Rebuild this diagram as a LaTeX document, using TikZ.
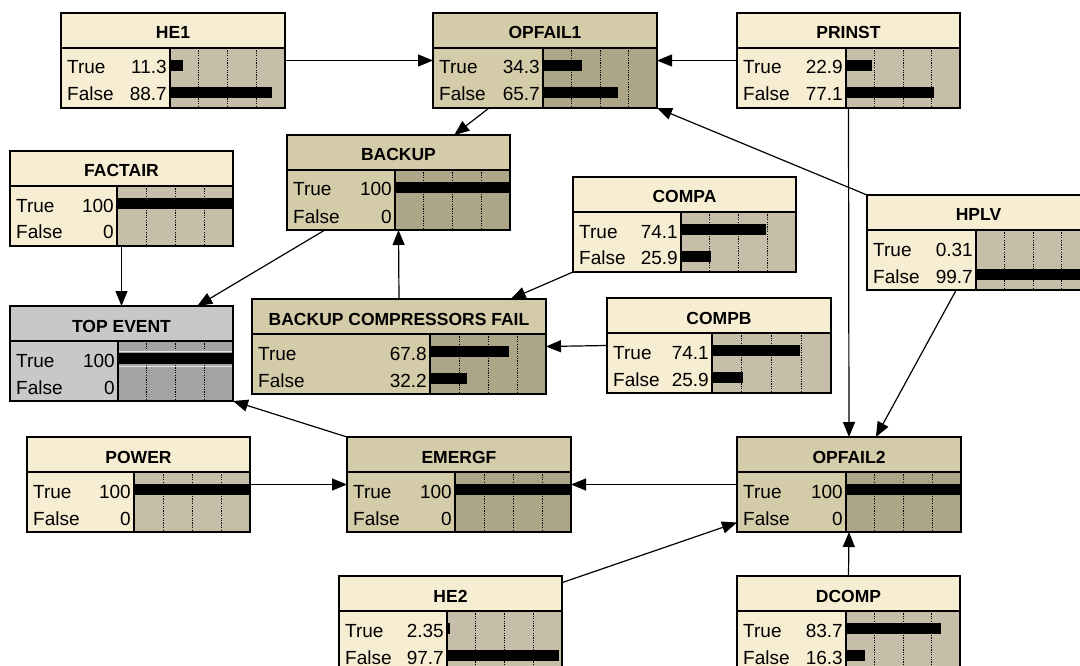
\documentclass[tikz,border=0pt]{standalone}
\usepackage{fontspec}
\setmainfont{Liberation Sans}
\usepackage{xcolor}
\usetikzlibrary{arrows.meta,calc,positioning}

\definecolor{plainhd}{RGB}{247,237,210}
\definecolor{plainbr}{RGB}{199,190,170}
\definecolor{condhd}{RGB}{212,203,168}
\definecolor{condbr}{RGB}{172,165,136}
\definecolor{tophd}{RGB}{200,200,200}
\definecolor{topbr}{RGB}{163,163,163}

\begin{document}
\begin{tikzpicture}[x=1pt,y=-1pt,>={Triangle[length=15pt,width=12pt]},
  font=\fontsize{19}{22}\selectfont,
  bbox/.style={draw,line width=2pt,minimum height=95pt,inner sep=0pt,outer sep=0pt,anchor=north west},
  txt/.style={inner sep=0pt,font=\fontsize{19}{22}\selectfont},
  head/.style={inner sep=0pt,font=\fontsize{17.5}{20}\selectfont\bfseries,anchor=base},
  link/.style={->,line width=1.2pt},
  grid/.style={line width=0.8pt,dash pattern=on 1.2pt off 1.2pt}]
  \useasboundingbox (0,0) rectangle (1080,666);
  \clip (0,0) rectangle (1080,666);
  % belief boxes: name/x/y/width/split/title/true/false/kind
  \foreach \n/\x/\y/\w/\s/\lbl/\pt/\pf/\kind in {
    he1/61/13/224/109/HE1/11.3/88.7/plain,
    opfail1/433/13/224/110/OPFAIL1/34.3/65.7/cond,
    prinst/737/13/223/109/PRINST/22.9/77.1/plain,
    backup/287/135/223/108/BACKUP/100/0/cond,
    factair/10/151/223/107/FACTAIR/100/0/plain,
    compa/573/177/223/108/COMPA/74.1/25.9/plain,
    hplv/867/195/223/109/HPLV/0.31/99.7/plain,
    topevent/10/306/223/108/{TOP EVENT}/100/0/top,
    bcf/252/299/294/178/{BACKUP COMPRESSORS FAIL}/67.8/32.2/cond,
    compb/607/298/224/105/COMPB/74.1/25.9/plain,
    power/27/437/223/107/POWER/100/0/plain,
    emergf/347/437/224/108/EMERGF/100/0/cond,
    opfail2/737/437/224/109/OPFAIL2/100/0/cond,
    he2/339/576/223/108/HE2/2.35/97.7/plain,
    dcomp/737/576/223/109/DCOMP/83.7/16.3/plain} {
    \colorlet{hdcol}{\kind hd}\colorlet{brcol}{\kind br}
    \node[bbox,fill=hdcol,minimum width=\w pt] (\n) at (\x,\y) {};
    \fill[brcol] (\x+\s,\y+35) rectangle (\x+\w,\y+95);
    \foreach \q in {0.25,0.5,0.75} \draw[grid] ({\x+\s+\q*(\w-\s)},\y+35) -- ++(0,60);
    \fill ({\x+\s},\y+47) rectangle ({\x+\s+\pt/100*(\w-\s)},\y+58);
    \fill ({\x+\s},\y+74) rectangle ({\x+\s+\pf/100*(\w-\s)},\y+85);
    \draw[line width=2pt] (\x,\y+35) -- (\x+\w,\y+35) (\x+\s,\y+35) -- (\x+\s,\y+95);
    \node[head] at (\x+\w/2,\y+26) {\lbl};
    \node[txt,anchor=base west] at (\x+6,\y+61) {True};
    \node[txt,anchor=base east] at (\x+\s-3,\y+61) {\pt};
    \node[txt,anchor=base west] at (\x+6,\y+88) {False};
    \node[txt,anchor=base east] at (\x+\s-3,\y+88) {\pf};
    \draw[line width=2pt] (\x,\y) rectangle (\x+\w,\y+95);
  }
  % evidence marks on the top event
  \draw[white!80!gray,line width=0.8pt] ($(topevent.north west)+(109,45)$) -- ($(topevent.north east)+(-1,45)$)
    ($(topevent.north west)+(109,60)$) -- ($(topevent.north east)+(-1,60)$);

  \draw[link] (he1.east) -- (opfail1.west);
  \draw[link] (prinst.west) -- (opfail1.east);
  \draw[link] ($(opfail1.south west)!0.25!(opfail1.south east)$) -- ($(backup.north west)!0.75!(backup.north east)$);
  \draw[link] (hplv.north west) -- (opfail1.south east);
  \draw[link] (prinst.south) -- (opfail2.north);
  \draw[link] ($(hplv.south west)!0.4!(hplv.south east)$) -- ($(opfail2.north west)!0.62!(opfail2.north east)$);
  \draw[link] (factair.south) -- (topevent.north);
  \draw[link] ($(backup.south west)!0.17!(backup.south east)$) -- ($(topevent.north west)!0.84!(topevent.north east)$);
  \draw[link] (bcf.north) -- (backup.south);
  \draw[link] (compa.south west) -- ($(bcf.north west)!0.88!(bcf.north east)$);
  \draw[link] (compb.west) -- (bcf.east);
  \draw[link] (emergf.north west) -- (topevent.south east);
  \draw[link] (power.east) -- (emergf.west);
  \draw[link] (opfail2.west) -- (emergf.east);
  \draw[link] ($(he2.north east)!0.07!(he2.south east)$) -- ($(opfail2.north west)!0.9!(opfail2.south west)$);
  \draw[link] (dcomp.north) -- (opfail2.south);
\end{tikzpicture}
\end{document}
